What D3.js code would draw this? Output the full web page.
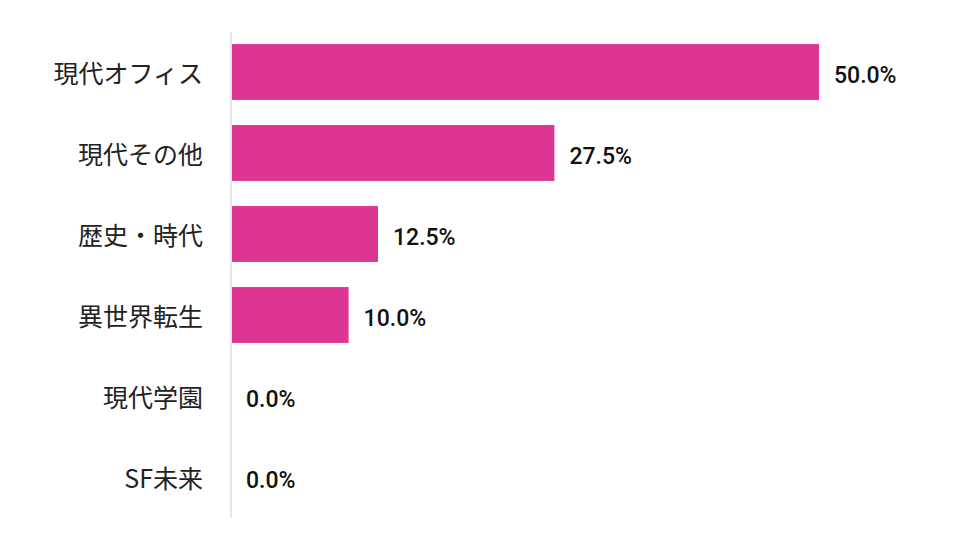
<!DOCTYPE html>
<html>
<head>
<meta charset="utf-8">
<script src="https://cdn.jsdelivr.net/npm/d3@7"></script>
<style>
  html, body { margin: 0; padding: 0; background: #fff; }
  svg { display: block; }
</style>
</head>
<body>
<svg id="chart" width="975" height="554"></svg>
<script>
const categories = ["現代オフィス", "現代その他", "歴史・時代", "異世界転生", "現代学園", "SF未来"];
const values = [50.0, 27.5, 12.5, 10.0, 0.0, 0.0];

const svg = d3.select("#chart");
const x = d3.scaleLinear().domain([0, 50]).range([231, 819]);
const y = d3.scaleBand().domain(categories).range([31.5, 517.5]).paddingInner(0.31).paddingOuter(0.155);

// axis line
svg.append("line")
  .attr("x1", x(0)).attr("x2", x(0))
  .attr("y1", y.range()[0]).attr("y2", y.range()[1])
  .attr("stroke", "#dcdcdc").attr("stroke-width", 1.5);

const rows = categories.map((c, i) => ({ c, v: values[i] }));

svg.selectAll("rect.bar").data(rows).join("rect")
  .attr("class", "bar")
  .attr("x", x(0) + 1)
  .attr("y", d => y(d.c))
  .attr("width", d => Math.max(0, x(d.v) - x(0) - 1))
  .attr("height", y.bandwidth())
  .attr("fill", "#dc3593");

svg.selectAll("text.cat").data(rows).join("text")
  .attr("class", "cat")
  .attr("x", x(0) - 28)
  .attr("y", d => y(d.c) + y.bandwidth() / 2)
  .attr("text-anchor", "end")
  .attr("dominant-baseline", "central")
  .attr("font-family", "'Noto Sans CJK JP', 'Noto Sans', sans-serif")
  .attr("font-size", 25)
  .attr("fill", "#222")
  .text(d => d.c);

svg.selectAll("text.val").data(rows).join("text")
  .attr("class", "val")
  .attr("x", d => x(d.v) + 15)
  .attr("y", d => y(d.c) + y.bandwidth() / 2 + 3)
  .attr("dominant-baseline", "central")
  .attr("font-family", "Roboto, 'Noto Sans', sans-serif")
  .attr("font-weight", 500)
  .attr("font-size", 23)
  .attr("fill", "#111")
  .text(d => d.v.toFixed(1) + "%");
</script>
</body>
</html>
